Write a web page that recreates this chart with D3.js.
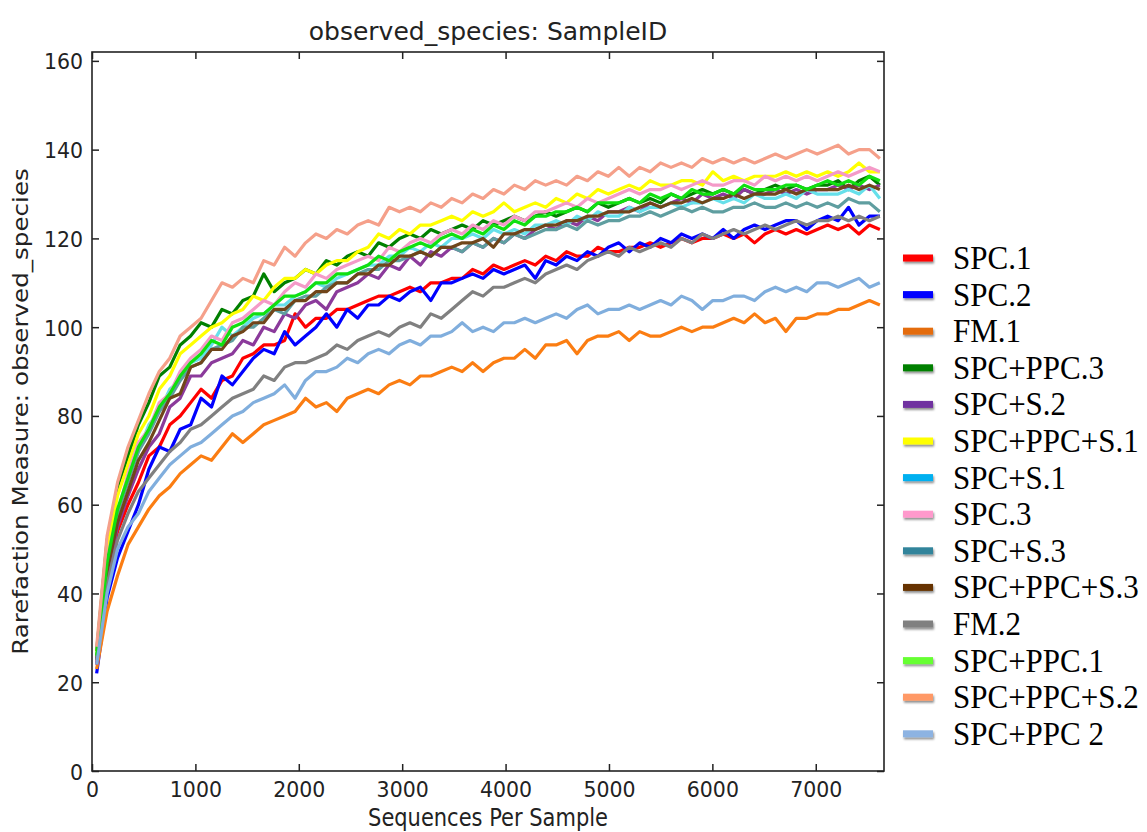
<!DOCTYPE html>
<html>
<head>
<meta charset="utf-8">
<script src="https://cdn.jsdelivr.net/npm/d3@7"></script>
<style>
  body { margin: 0; background: #fff; }
  svg { display: block; }
</style>
</head>
<body>
<svg id="chart" width="1147" height="832"></svg>
<script>
 //rarefaction depths (sequences per sample)
var depths = [45,146,247,348,449,550,651,752,853,954,
  1055,1156,1257,1358,1459,1560,1661,1762,1863,1964,
  2065,2166,2267,2368,2469,2570,2671,2772,2873,2974,
  3075,3176,3277,3378,3479,3580,3681,3782,3883,3984,
  4085,4186,4287,4388,4489,4590,4691,4792,4893,4994,
  5095,5196,5297,5398,5499,5600,5701,5802,5903,6004,
  6105,6206,6307,6408,6509,6610,6711,6812,6913,7014,
  7115,7216,7317,7418,7519,7620];

var sampleNames = ['SPC.1', 'SPC.2', 'FM.1', 'SPC+PPC.3', 'SPC+S.2', 'SPC+PPC+S.1', 'SPC+S.1',
  'SPC.3', 'SPC+S.3', 'SPC+PPC+S.3', 'FM.2', 'SPC+PPC.1', 'SPC+PPC+S.2', 'SPC+PPC 2'];

var lineColors = ['#ff0000', '#0000ff', '#fb7d12', '#008000', '#8b3a9b', '#ffff00', '#66e0ea',
  '#f49ac8', '#5f9ea0', '#70451a', '#808080', '#10e010', '#f5a08a', '#80aedd'];
var legendColors = ['#ff0000', '#0000ff', '#e46c0a', '#008000', '#7030a0', '#ffff00', '#00b0f0',
  '#ff99cc', '#31849b', '#663300', '#808080', '#66ff33', '#ff9966', '#8db3e2'];

 //observed species per sample
var spc1 = [24,43,54,60,65,71,73,78,80,83, 86,84,88,89,93,94,96,96,97,103,
  100,102,102,104,104,105,106,107,107,108, 109,108,110,110,111,111,113,112,114,113,
  114,115,114,116,115,117,116,116,118,117, 117,118,118,119,118,119,120,119,120,120,
  121,120,121,119,121,122,121,122,121,122, 123,122,123,121,123,122];
var spc2 = [22,39,48,54,60,68,73,72,77,78, 84,82,89,87,90,93,95,94,99,96,
  98,100,103,100,104,102,105,105,107,106, 108,109,106,110,110,111,112,111,113,112,
  113,114,111,115,114,116,115,117,116,118, 119,117,119,118,120,119,121,120,121,120,
  122,120,122,123,122,123,124,124,122,124, 125,124,127,123,125,125];
var fm1 = [23,36,44,51,55,59,62,64,67,69, 71,70,73,76,74,76,78,79,80,81,
  84,82,83,81,84,85,86,85,87,88, 87,89,89,90,91,90,92,90,92,93,
  93,95,93,96,96,97,94,97,98,98, 99,97,99,98,98,99,100,99,100,100,
  101,102,101,103,101,102,99,102,102,103, 103,104,104,105,106,105];
var spcPpc3 = [27,52,64,71,78,83,89,91,96,98, 101,100,104,103,106,107,112,108,110,111,
  113,112,115,114,116,117,116,119,118,120, 121,120,122,121,122,123,122,124,123,124,
  125,124,125,126,125,126,127,126,128,127, 128,129,128,129,128,130,129,130,131,130,
  131,130,131,130,131,132,131,132,131,132, 132,133,131,133,134,132];
var spcS2 = [24,44,55,62,68,73,76,82,84,89, 89,92,93,94,97,96,100,99,103,102,
  105,106,104,108,109,110,112,111,114,113, 116,114,117,116,118,117,119,118,120,119,
  121,120,122,123,122,124,123,125,124,126, 126,127,126,128,127,128,129,128,130,129,
  130,129,131,130,130,131,130,131,130,131, 131,132,131,132,131,132];
var spcPpcS1 = [26,50,62,69,76,80,86,89,94,96, 98,100,101,103,104,107,106,109,111,111,
  113,112,114,115,115,117,118,121,120,122, 121,123,123,124,125,124,126,125,126,128,
  126,127,128,127,129,128,130,129,131,130, 131,132,131,133,132,132,133,133,132,135,
  133,134,133,134,134,134,135,134,135,134, 135,134,135,137,135,135];
var spcS1 = [25,47,58,66,72,78,81,86,88,92, 93,96,100,98,100,102,103,105,105,107,
  108,110,109,111,112,113,114,114,116,116, 118,117,119,118,120,120,121,120,122,121,
  122,121,123,123,124,123,125,124,126,125, 125,127,126,127,127,128,127,128,128,129,
  128,129,128,130,129,129,130,129,131,130, 130,130,131,130,132,129];
var spc3 = [25,48,58,67,74,77,83,85,90,93, 95,98,97,101,102,104,106,105,108,110,
  109,112,111,113,114,115,116,115,118,117, 119,120,119,121,122,121,123,122,124,123,
  125,124,126,126,127,128,127,129,128,129, 130,131,130,131,131,132,131,132,133,132,
  132,133,133,132,134,133,134,133,134,133, 134,135,134,135,136,135];
var spcS3 = [25,46,58,65,72,76,81,84,88,91, 92,95,96,97,100,100,102,104,103,106,
  107,107,109,110,110,112,113,113,115,115, 116,117,116,118,118,117,119,118,120,119,
  121,120,121,122,122,123,122,124,123,124, 124,125,125,126,125,126,127,126,127,126,
  126,127,127,128,127,127,128,127,128,127, 128,127,129,128,128,126];
var spcPpcS3 = [25,45,56,63,70,74,79,84,85,91, 92,95,95,98,99,101,101,104,104,106,
  106,108,108,110,110,112,112,114,114,116, 116,117,116,118,118,119,119,120,118,121,
  121,122,122,123,123,124,124,125,125,126, 126,126,127,128,127,128,128,129,128,129,
  129,130,129,130,130,130,131,130,131,131, 131,131,132,131,132,131];
var fm2 = [25,42,52,58,63,66,69,72,74,77, 78,80,82,84,85,86,89,88,91,92,
  92,93,94,96,95,97,98,99,98,100, 101,100,103,102,104,106,108,107,109,109,
  110,111,110,112,113,114,113,115,116,117, 116,118,117,118,119,118,120,119,121,120,
  121,122,121,122,123,122,123,124,123,124, 124,125,124,125,124,125];
var spcPpc1 = [26,47,59,66,73,77,82,85,89,92, 94,97,96,100,101,103,103,105,107,107,
  108,110,110,112,112,113,114,116,115,117, 118,119,118,120,121,120,122,121,123,122,
  124,123,125,125,126,126,127,126,128,128, 128,129,128,130,129,130,129,131,130,130,
  131,130,132,131,131,131,132,132,131,132, 133,132,133,132,134,133];
var spcPpcS2 = [28,53,65,73,79,85,90,93,98,100, 102,106,110,109,111,110,115,114,118,116,
  119,121,120,122,121,123,124,123,127,126, 127,126,128,127,129,128,130,129,131,130,
  132,131,133,132,133,132,134,133,135,134, 136,134,136,135,137,136,137,136,138,137,
  138,137,138,137,138,139,138,139,140,139, 140,141,139,140,140,138];
var spcPpc2 = [24,40,50,55,58,63,66,69,71,73, 74,76,78,80,81,83,84,85,87,84,
  88,90,90,91,93,92,94,95,94,96, 97,96,98,98,99,101,99,100,99,101,
  101,102,101,102,103,102,104,105,103,104, 104,105,104,105,106,105,107,106,104,106,
  106,107,107,106,108,109,108,109,108,110, 110,109,110,111,109,110];

var speciesSeries = [spc1, spc2, fm1, spcPpc3, spcS2, spcPpcS1, spcS1,
  spc3, spcS3, spcPpcS3, fm2, spcPpc1, spcPpcS2, spcPpc2];

var xTicks = [0, 1000, 2000, 3000, 4000, 5000, 6000, 7000];
var yTicks = [0, 20, 40, 60, 80, 100, 120, 140, 160];

var root = d3.select('#chart'),
    padL = 92, padR = 884, padT = 52, padB = 771,
    ink = '#222';

var sx = d3.scaleLinear().domain([0, 7660]).range([padL, padR]),
    sy = d3.scaleLinear().domain([0, 162]).range([padB, padT]);

root.append('rect').attr('width', 1147).attr('height', 832).attr('fill', '#fff');

var defs = root.append('defs');
defs.append('filter')
    .attr('id', 'shade').attr('x', '-20%').attr('y', '-60%').attr('width', '150%').attr('height', '280%')
  .append('feDropShadow')
    .attr('dx', 1).attr('dy', 2).attr('stdDeviation', 1.2)
    .attr('flood-color', '#000').attr('flood-opacity', 0.45);
defs.append('clipPath').attr('id', 'plotClip')
  .append('rect').attr('x', padL).attr('y', padT).attr('width', padR - padL).attr('height', padB - padT);

 //curves
var line = d3.line()
    .x(function(d, i) { return sx(depths[i]); })
    .y(function(d) { return sy(d); });

root.append('g').attr('clip-path', 'url(#plotClip)')
  .selectAll('path')
  .data(speciesSeries)
  .enter()
  .append('path')
    .attr('d', line)
    .attr('fill', 'none')
    .attr('stroke', function(d, i) { return lineColors[i]; })
    .attr('stroke-width', 3.2)
    .attr('stroke-linejoin', 'round');

 //axes, ticks pointing inward on all four sides
function styleAxis(g) {
  g.select('.domain').remove();
  g.selectAll('.tick line').attr('stroke', ink).attr('stroke-width', 1.5);
}

var xAxis = root.append('g').attr('transform', 'translate(0,' + padB + ')')
    .call(d3.axisBottom(sx).tickValues(xTicks).tickSize(-7).tickFormat(d3.format('d')))
    .call(styleAxis);
xAxis.selectAll('.tick text')
    .attr('y', null).attr('dy', null)
    .attr('transform', 'translate(0,26) scale(1,1.06)')
    .attr('fill', ink)
    .style('font', '20.5px "DejaVu Sans"');

var yAxis = root.append('g').attr('transform', 'translate(' + padL + ',0)')
    .call(d3.axisLeft(sy).tickValues(yTicks).tickSize(-7).tickFormat(d3.format('d')))
    .call(styleAxis);
yAxis.selectAll('.tick text')
    .attr('x', null).attr('dy', null)
    .attr('transform', 'translate(-9,8) scale(1,1.06)')
    .attr('fill', ink)
    .style('font', '20.5px "DejaVu Sans"');

root.append('g').attr('transform', 'translate(0,' + padT + ')')
    .call(d3.axisTop(sx).tickValues(xTicks).tickSize(-7).tickFormat(''))
    .call(styleAxis);
root.append('g').attr('transform', 'translate(' + padR + ',0)')
    .call(d3.axisRight(sy).tickValues(yTicks).tickSize(-7).tickFormat(''))
    .call(styleAxis);

root.append('rect')
    .attr('x', padL).attr('y', padT)
    .attr('width', padR - padL).attr('height', padB - padT)
    .attr('fill', 'none').attr('stroke', ink).attr('stroke-width', 1.6);

 //title and axis labels
root.append('text')
    .attr('x', (padL + padR) / 2).attr('y', 40)
    .attr('text-anchor', 'middle').attr('fill', ink)
    .style('font', '25px "DejaVu Sans"')
    .text('observed_species: SampleID');

root.append('text')
    .attr('transform', 'translate(' + (padL + padR) / 2 + ',826) scale(1,1.15)')
    .attr('text-anchor', 'middle').attr('fill', ink)
    .style('font', '21px "DejaVu Sans"')
    .text('Sequences Per Sample');

root.append('text')
    .attr('transform', 'translate(28,' + (padT + padB) / 2 + ') scale(1,1.17) rotate(-90)')
    .attr('text-anchor', 'middle').attr('fill', ink)
    .style('font', '21px "DejaVu Sans"')
    .text('Rarefaction Measure: observed_species');

 //legend
var legend = root.append('g').selectAll('g')
  .data(sampleNames)
  .enter()
  .append('g')
    .attr('transform', function(d, i) { return 'translate(903,' + (258 + i * 36.6) + ')'; });

legend.append('rect')
    .attr('x', 0).attr('y', -3.5)
    .attr('width', 30).attr('height', 7)
    .attr('fill', function(d, i) { return legendColors[i]; })
    .attr('filter', 'url(#shade)');

legend.append('text')
    .attr('transform', 'translate(50,11) scale(1,1.08)')
    .attr('fill', '#000')
    .style('font', '31px "Liberation Serif"')
    .text(function(d) { return d; });
</script>
</body>
</html>
